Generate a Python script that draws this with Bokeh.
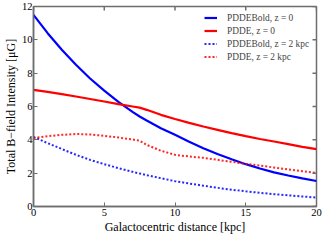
import math
from bokeh.plotting import figure
from bokeh.models import Range1d, Legend, LegendItem, FixedTicker
from bokeh.embed import file_html
from bokeh.resources import INLINE

# Galactocentric distance [kpc]
r = [0, 1, 2, 3, 4, 5, 6, 7, 7.5, 8, 9, 10, 11, 12, 13, 14, 15, 16, 17, 18, 19, 20]

# PDDEBold, z = 0
bold_z0 = [11.5, 10.4, 9.4, 8.5, 7.68, 6.95, 6.28, 5.68, 5.4, 5.16, 4.7, 4.3,
           3.88, 3.5, 3.15, 2.83, 2.54, 2.28, 2.05, 1.86, 1.69, 1.53]
# PDDE, z = 0
pdde_z0 = [7.0, 6.88, 6.74, 6.6, 6.45, 6.3, 6.14, 6.0, 5.93, 5.8, 5.5, 5.25,
           5.02, 4.8, 4.6, 4.4, 4.22, 4.05, 3.9, 3.74, 3.58, 3.44]
# PDDEBold, z = 2 kpc
bold_z2 = [4.18, 3.8, 3.45, 3.1, 2.8, 2.54, 2.3, 2.08, 1.98, 1.88, 1.7, 1.52,
           1.38, 1.25, 1.12, 1.01, 0.91, 0.82, 0.74, 0.67, 0.6, 0.54]
# PDDE, z = 2 kpc
pdde_z2 = [4.1, 4.22, 4.3, 4.35, 4.32, 4.24, 4.14, 4.02, 3.95, 3.7, 3.35, 3.1,
           3.0, 2.92, 2.8, 2.68, 2.56, 2.45, 2.34, 2.22, 2.12, 2.02]

labels = ["PDDEBold, z = 0", "PDDE, z = 0", "PDDEBold, z = 2 kpc", "PDDE, z = 2 kpc"]

x_ticks = [0, 5, 10, 15, 20]
y_ticks = [0, 2, 4, 6, 8, 10, 12]
x_lim = (0, 20)
y_lim = (0, 12)

FONT = "Liberation Serif"
FRAME = "#6e6e6e"

p = figure(frame_width=283, frame_height=200, output_backend="svg", toolbar_location=None,
           x_range=Range1d(*x_lim), y_range=Range1d(*y_lim),
           min_border_left=26, min_border_right=15, min_border_top=6, min_border_bottom=35,
           x_axis_label="Galactocentric distance [kpc]",
           y_axis_label="Total B\u2212field Intensity [\u03bcG]")
p.grid.visible = False
p.outline_line_color = FRAME
p.outline_line_width = 1.5
p.background_fill_color = "white"
p.border_fill_color = "white"

r1 = p.line(r, bold_z0, line_color="#0000ff", line_width=2.2)
r2 = p.line(r, pdde_z0, line_color="#ff0000", line_width=2.2)
r3 = p.line(r, bold_z2, line_color="#0000ff", line_width=2, line_dash="2 2", line_alpha=0.85)
r4 = p.line(r, pdde_z2, line_color="#ff0000", line_width=2, line_dash="2 2", line_alpha=0.85)

# inward ticks on the top and right edges (clipped to the frame)
p.scatter(x=x_ticks, y=[y_lim[1]] * len(x_ticks), marker="dash", angle=math.pi / 2,
          size=8, line_color=FRAME, line_width=1.5)
p.scatter(x=[x_lim[1]] * len(y_ticks), y=y_ticks, marker="dash",
          size=8, line_color=FRAME, line_width=1.5)

for ax in [p.xaxis[0], p.yaxis[0]]:
    ax.major_tick_in = 4
    ax.major_tick_out = 0
    ax.minor_tick_in = 0
    ax.minor_tick_out = 0
    ax.axis_line_color = FRAME
    ax.axis_line_width = 1.5
    ax.major_tick_line_color = FRAME
    ax.major_label_text_font = FONT
    ax.major_label_text_font_size = "10.5px"
    ax.major_label_text_color = "black"
    ax.axis_label_text_font = FONT
    ax.axis_label_text_font_size = "12px"
    ax.axis_label_text_font_style = "normal"
    ax.axis_label_text_color = "black"
    ax.axis_label_standoff = 1

p.xaxis[0].major_label_standoff = 2
p.yaxis[0].major_label_standoff = 1
p.xaxis[0].ticker = FixedTicker(ticks=x_ticks)
p.yaxis[0].ticker = FixedTicker(ticks=y_ticks)

legend = Legend(items=[LegendItem(label=labels[0], renderers=[r1]),
                       LegendItem(label=labels[1], renderers=[r2]),
                       LegendItem(label=labels[2], renderers=[r3]),
                       LegendItem(label=labels[3], renderers=[r4])],
                location=(171, 143))
legend.border_line_color = None
legend.background_fill_alpha = 0
legend.label_text_font = FONT
legend.label_text_font_size = "9.4px"
legend.label_height = 13
legend.glyph_height = 13
legend.glyph_width = 13
legend.label_standoff = 10
legend.spacing = 0
legend.padding = 0
legend.margin = 0
p.add_layout(legend)

open("out.html", "w").write(file_html(p, INLINE))
